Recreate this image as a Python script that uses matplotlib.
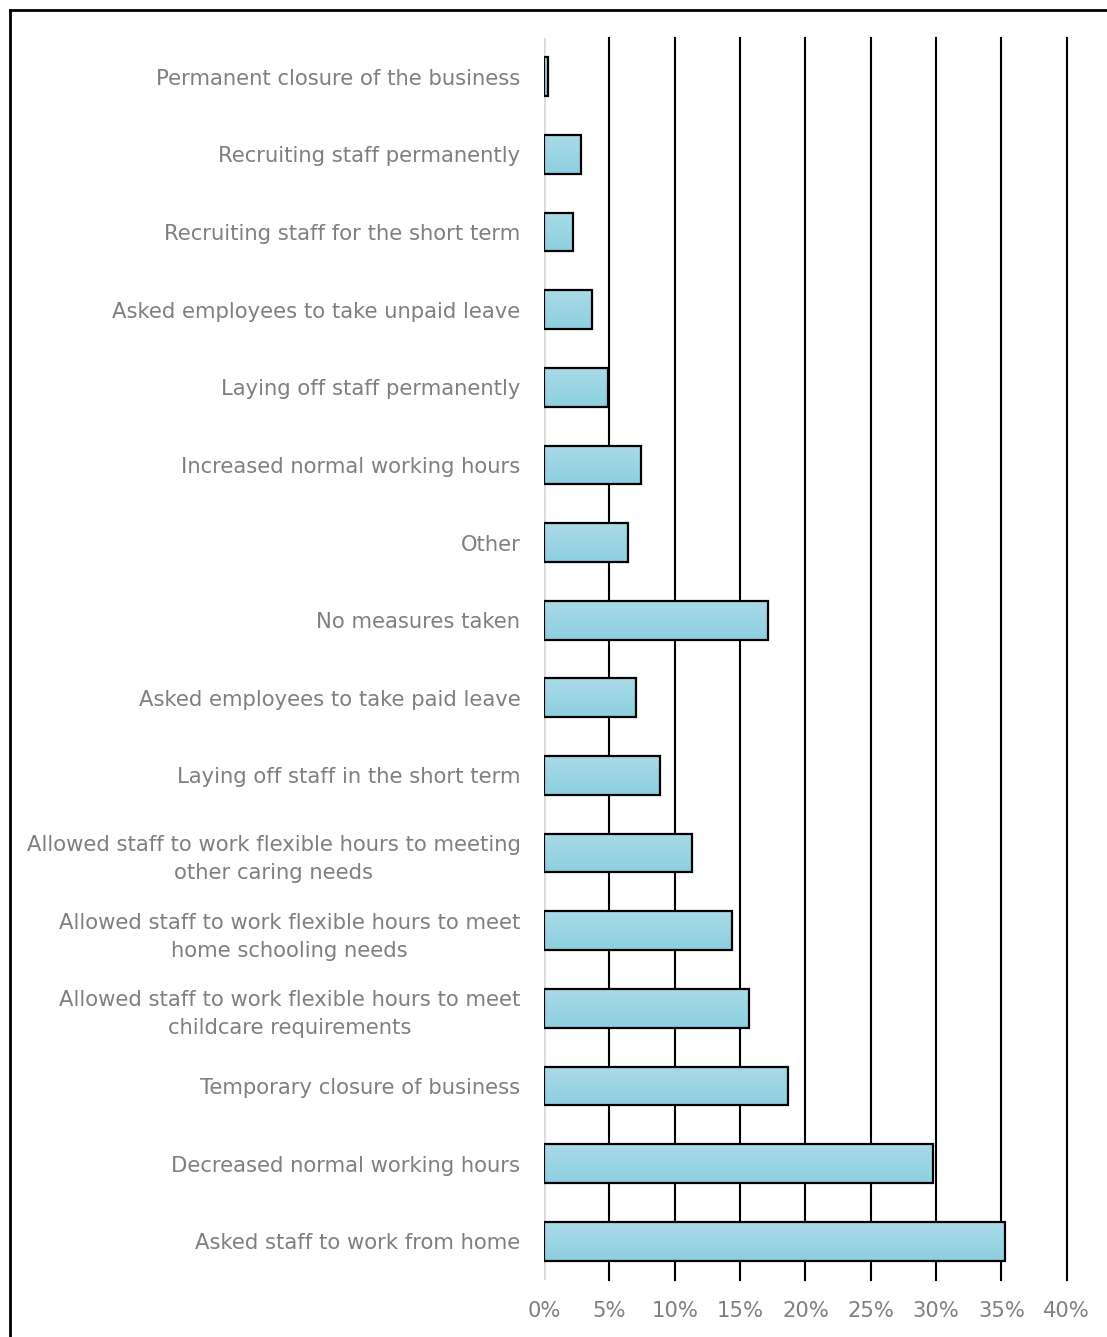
import numpy as np
import matplotlib
matplotlib.use("Agg")
import matplotlib.pyplot as plt
from matplotlib.colors import LinearSegmentedColormap
from matplotlib.lines import Line2D

# Medidas tomadas por las empresas (% de empresas)
medidas = [
    "Permanent closure of the business",
    "Recruiting staff permanently",
    "Recruiting staff for the short term",
    "Asked employees to take unpaid leave",
    "Laying off staff permanently",
    "Increased normal working hours",
    "Other",
    "No measures taken",
    "Asked employees to take paid leave",
    "Laying off staff in the short term",
    "Allowed staff to work flexible hours to meeting\nother caring needs",
    "Allowed staff to work flexible hours to meet\nhome schooling needs",
    "Allowed staff to work flexible hours to meet\nchildcare requirements",
    "Temporary closure of business",
    "Decreased normal working hours",
    "Asked staff to work from home",
]
porcentajes = [0.3, 2.8, 2.2, 3.7, 4.9, 7.4, 6.45, 17.15, 7.05, 8.9,
               11.35, 14.4, 15.65, 18.7, 29.75, 35.25]
ticks_x = [0, 5, 10, 15, 20, 25, 30, 35, 40]
etiquetas_x = ["0%", "5%", "10%", "15%", "20%", "25%", "30%", "35%", "40%"]

gris = "#7f7f7f"
plt.rcParams["font.family"] = ["DejaVu Sans"]

fig = plt.figure(figsize=(11.07, 13.37), dpi=100)
ax = fig.add_axes([544 / 1107, 1 - 1280 / 1337, 522.8 / 1107, 1242 / 1337])

n = len(medidas)
y = np.arange(n)

# lineas verticales de la cuadricula
for t in ticks_x[1:]:
    ax.axvline(t, color="black", lw=1.5, zorder=1, clip_on=False)
ax.axvline(0, color="#d9d9d9", lw=1.8, zorder=1)

# barras con degradado
degradado = LinearSegmentedColormap.from_list("azul", ["#8ccfe0", "#aadae7"])
grad = np.linspace(0, 1, 64).reshape(-1, 1)
barras = ax.barh(y, porcentajes, height=0.5, facecolor="none",
                 edgecolor="black", linewidth=1.6, zorder=3)
for b in barras:
    x0, y0 = b.get_x(), b.get_y()
    w, h = b.get_width(), b.get_height()
    im = ax.imshow(grad, cmap=degradado, aspect="auto", origin="lower",
                   extent=[x0, x0 + w, y0 + h, y0], zorder=2)
    im.set_clip_path(b)

ax.set_xlim(0, 40)
ax.set_ylim(n - 0.5, -0.5)

ax.set_yticks(y)
ax.set_yticklabels(medidas, fontsize=15.2, color=gris)
for lab in ax.get_yticklabels():
    lab.set_multialignment("center")
    lab.set_linespacing(1.5)
ax.set_xticks(ticks_x)
ax.set_xticklabels(etiquetas_x, fontsize=15.2, color=gris)
ax.tick_params(axis="both", length=0)
ax.tick_params(axis="y", pad=17)
ax.tick_params(axis="x", pad=15)
for s in ax.spines.values():
    s.set_visible(False)

# marco exterior (izquierda y arriba)
fig.add_artist(Line2D([10 / 1107, 10 / 1107], [0, 1 - 10 / 1337],
                      transform=fig.transFigure, color="black", lw=2))
fig.add_artist(Line2D([10 / 1107, 1], [1 - 10 / 1337, 1 - 10 / 1337],
                      transform=fig.transFigure, color="black", lw=2))

plt.savefig("out.png", dpi=100)
plt.close()
